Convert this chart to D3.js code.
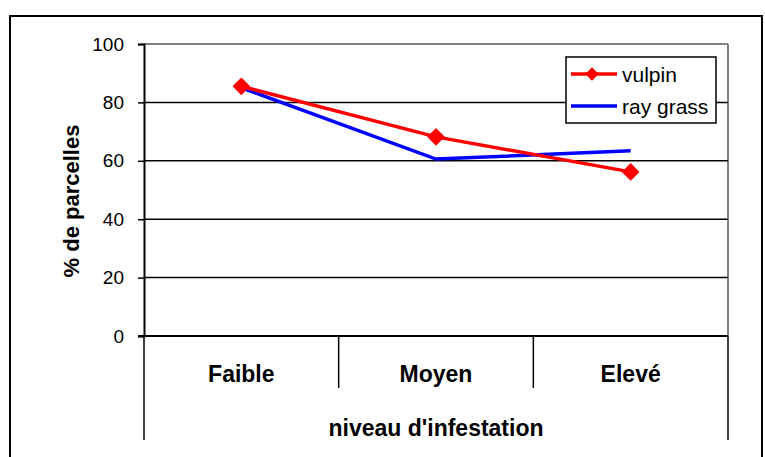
<!DOCTYPE html>
<html>
<head>
<meta charset="utf-8">
<script src="https://cdn.jsdelivr.net/npm/d3@7"></script>
<style>
  body { margin: 0; background: #fff; }
  text { font-family: "Liberation Sans", Arial, sans-serif; }
</style>
</head>
<body>
<div id="chart"></div>
<script>
// data
const categories = ['Faible', 'Moyen', 'Elevé'];
const vulpin = [85.5, 68.2, 56.2];
const rayGrass = [85, 60.6, 63.4];
const yTicks = [0, 20, 40, 60, 80, 100];

const W = 765, H = 457;
let svg = d3.select('#chart').append('svg')
  .attr('width', W)
  .attr('height', H);

// outer frame (bottom edge runs off the page)
svg.append('rect')
  .attr('x', 10).attr('y', 16)
  .attr('width', 752).attr('height', 470)
  .style('fill', 'none')
  .style('stroke', '#000')
  .style('stroke-width', 2);

let plotLeft = 144, plotRight = 728, plotTop = 44, plotBottom = 336;

let x = d3.scaleBand()
  .domain(categories)
  .range([plotLeft, plotRight]);
let y = d3.scaleLinear()
  .domain([0, 100])
  .range([plotBottom, plotTop]);

// plot area border, gray on top and right
svg.append('line')
  .attr('x1', plotLeft).attr('x2', plotRight)
  .attr('y1', y(100)).attr('y2', y(100))
  .style('stroke', '#808080').style('stroke-width', 2);
svg.append('line')
  .attr('x1', plotRight).attr('x2', plotRight)
  .attr('y1', y(100)).attr('y2', plotBottom)
  .style('stroke', '#808080').style('stroke-width', 2);

// gridlines
svg.selectAll('.grid')
  .data(yTicks.filter(d => d > 0 && d < 100))
  .enter().append('line')
  .attr('class', 'grid')
  .attr('x1', plotLeft).attr('x2', plotRight)
  .attr('y1', d => y(d)).attr('y2', d => y(d))
  .style('stroke', '#000').style('stroke-width', 1.5);

// y axis
let yAxis = svg.append('g')
  .attr('transform', 'translate(' + plotLeft + ',0)')
  .call(d3.axisLeft(y).tickValues(yTicks).tickSize(6).tickPadding(14));
yAxis.select('.domain').style('stroke', '#000').style('stroke-width', 2);
yAxis.selectAll('.tick line').style('stroke', '#000').style('stroke-width', 1.5);
yAxis.selectAll('.tick text')
  .style('font-size', '19px')
  .style('font-family', '"Liberation Sans", Arial, sans-serif')
  .style('fill', '#000');

// x axis baseline + category separators
svg.append('line')
  .attr('x1', plotLeft - 6).attr('x2', plotRight)
  .attr('y1', plotBottom).attr('y2', plotBottom)
  .style('stroke', '#000').style('stroke-width', 2);

let seps = categories.map(c => x(c)).concat([plotRight]);
svg.selectAll('.sep')
  .data(seps)
  .enter().append('line')
  .attr('class', 'sep')
  .attr('x1', d => d).attr('x2', d => d)
  .attr('y1', plotBottom)
  .attr('y2', (d, i) => (i === 0 || i === seps.length - 1) ? 440 : 388)
  .style('stroke', '#000').style('stroke-width', 1.5);

svg.selectAll('.cat')
  .data(categories)
  .enter().append('text')
  .attr('class', 'cat')
  .attr('x', d => x(d) + x.bandwidth() / 2)
  .attr('y', 382)
  .attr('text-anchor', 'middle')
  .style('font-size', '23px')
  .style('font-weight', 'bold')
  .text(d => d);

svg.append('text')
  .attr('x', (plotLeft + plotRight) / 2)
  .attr('y', 436)
  .attr('text-anchor', 'middle')
  .style('font-size', '23px')
  .style('font-weight', 'bold')
  .text("niveau d'infestation");

svg.append('text')
  .attr('transform', 'translate(79,' + 201 + ') rotate(-90)')
  .attr('text-anchor', 'middle')
  .style('font-size', '22px')
  .style('font-weight', 'bold')
  .text('% de parcelles');

// series
let line = d3.line()
  .x((d, i) => x(categories[i]) + x.bandwidth() / 2)
  .y(d => y(d));

svg.append('path')
  .attr('d', line(rayGrass))
  .style('fill', 'none')
  .style('stroke', '#0000ff')
  .style('stroke-width', 3.5);

svg.append('path')
  .attr('d', line(vulpin))
  .style('fill', 'none')
  .style('stroke', '#ff0000')
  .style('stroke-width', 3.5);

let diamond = d3.symbol().type(d3.symbolDiamond2).size(200);
svg.selectAll('.pt')
  .data(vulpin)
  .enter().append('path')
  .attr('class', 'pt')
  .attr('d', diamond)
  .attr('transform', (d, i) => 'translate(' + (x(categories[i]) + x.bandwidth() / 2) + ',' + y(d) + ')')
  .style('fill', '#ff0000');

// legend
let lg = svg.append('g').attr('transform', 'translate(566,57)');
lg.append('rect')
  .attr('width', 150).attr('height', 66)
  .style('fill', '#fff')
  .style('stroke', '#000')
  .style('stroke-width', 1.5);

let legendItems = [
  {name: 'vulpin', color: '#ff0000', marker: true, y: 17},
  {name: 'ray grass', color: '#0000ff', marker: false, y: 49}
];
legendItems.forEach(function(it) {
  lg.append('line')
    .attr('x1', 5).attr('x2', 51)
    .attr('y1', it.y).attr('y2', it.y)
    .style('stroke', it.color)
    .style('stroke-width', 3.5);
  if (it.marker) {
    lg.append('path')
      .attr('d', d3.symbol().type(d3.symbolDiamond2).size(112))
      .attr('transform', 'translate(26,' + it.y + ')')
      .style('fill', it.color);
  }
  lg.append('text')
    .attr('x', 56)
    .attr('y', it.y + 8)
    .style('font-size', '21px')
    .text(it.name);
});
</script>
</body>
</html>
